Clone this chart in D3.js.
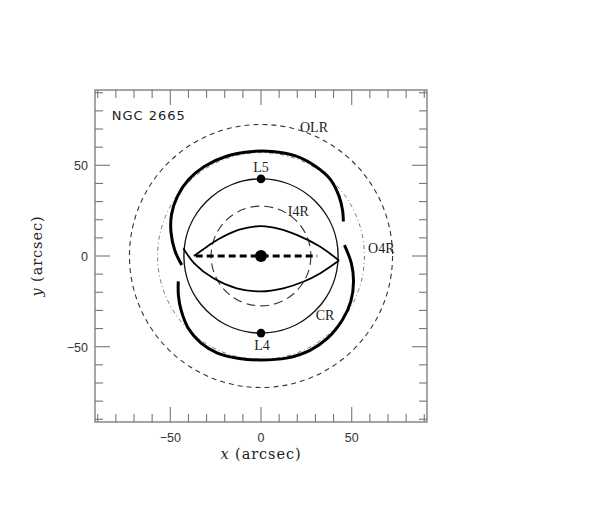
<!DOCTYPE html>
<html lang="en">
<head>
  <meta charset="UTF-8">
  <title>NGC 2665 resonances</title>
  <script src="https://d3js.org/d3.v7.min.js"></script>
  <style>
    body { margin: 0; background: #fff; }
    svg { display: block; }
    .tick-label { font-family: "Liberation Sans", Arial, sans-serif; font-size: 12.5px; fill: #333; }
    .axis-title { font-family: "DejaVu Serif", serif; font-size: 14.5px; letter-spacing: 0.9px; fill: #222; }
    .ann { font-family: "Liberation Serif", serif; font-size: 14px; fill: #222; }
    .name { font-family: "DejaVu Sans", sans-serif; font-size: 13px; letter-spacing: 1px; fill: #222; }
  </style>
</head>
<body>
  <svg width="598" height="506"></svg>
  <script>
    // resonance circles (arcsec)
    const circleNames = ['OLR', 'O4R', 'CR', 'I4R'];
    const circleRadii = [72.5, 57, 42.5, 27.5];

    // thick banana orbits around L5 (top) and L4 (bottom)
    const orbitTop = [[-43.7,-5],[-47.5,3],[-49.6,13],[-49.3,23],[-46,33],[-40,42],[-31,49.5],[-19,55],
      [-6,57.5],[6,57.6],[19,55.2],[30,49.5],[38,42.5],[43,33],[45,25],[45.4,19]];
    const orbitBottom = [[-45.6,-14],[-45.5,-22],[-44,-30],[-40,-40],[-33,-48],[-24,-53.5],[-12,-56.5],
      [0,-57.3],[14,-56.3],[27,-52],[37,-45],[45,-35],[49.5,-25],[51,-14],[49.8,-4],[46,6]];

    // lens shaped x1 orbit
    const lensUpper = [[-37,0],[-30,5],[-23,9.5],[-12,14.5],[0,16.5],[10,15],[20,11.5],[32,5.5],[43,-2.5]];
    const lensLower = [[-42.8,4.2],[-36.8,-4],[-26.2,-12.3],[-13.4,-17.8],[0,-19.5],[12.3,-17.8],
      [23.3,-14.2],[32.5,-9.6],[43,-2.5]];

    // bar
    const barEnds = [-36, 31];

    // points: centre, L5, L4
    const pointNames = ['centre', 'L5', 'L4'];
    const pointXY = [[0,0],[0,42.5],[0,-42.5]];

    // annotations
    const labelText = ['NGC 2665', 'OLR', 'L5', 'I4R', 'O4R', 'CR', 'L4'];
    const labelXY = [[-82.3,75],[21.5,68.5],[0,46.5],[14.8,21.8],[59,1.5],[30.2,-35.5],[0.5,-51.8]];

    const xTicksMajor = [-50, 0, 50];
    const tickMinor = d3.range(-90, 91, 10);

    const box = { left: 95, top: 90, size: 332 };
    const svg = d3.select('svg');

    const x = d3.scaleLinear().domain([-91.5, 91.5]).range([box.left, box.left + box.size]);
    const y = d3.scaleLinear().domain([-91.5, 91.5]).range([box.top + box.size, box.top]);

    const line = d3.line().x(d => x(d[0])).y(d => y(d[1])).curve(d3.curveCatmullRom);

    // circles
    const circleStyle = {
      OLR: { w: 1.1, dash: '5,4', c: '#333' },
      O4R: { w: 0.9, dash: '4,3,1,3', c: '#666' },
      CR:  { w: 1.4, dash: null, c: '#111' },
      I4R: { w: 1.1, dash: '9,5', c: '#333' }
    };
    circleNames.forEach((n, i) => {
      const s = circleStyle[n];
      svg.append('circle')
        .attr('cx', x(0)).attr('cy', y(0))
        .attr('r', x(circleRadii[i]) - x(0))
        .attr('fill', 'none')
        .attr('stroke', s.c)
        .attr('stroke-width', s.w)
        .attr('stroke-dasharray', s.dash);
    });

    // orbits
    [orbitTop, orbitBottom].forEach(o => {
      svg.append('path').datum(o).attr('d', line)
        .attr('fill', 'none').attr('stroke', '#000').attr('stroke-width', 3);
    });
    [lensUpper, lensLower].forEach(o => {
      svg.append('path').datum(o).attr('d', line)
        .attr('fill', 'none').attr('stroke', '#000').attr('stroke-width', 1.8);
    });

    // bar
    svg.append('line')
      .attr('x1', x(barEnds[0])).attr('x2', x(barEnds[1]))
      .attr('y1', y(0)).attr('y2', y(0))
      .attr('stroke', '#000').attr('stroke-width', 3.2)
      .attr('stroke-dasharray', '7,4');

    // points
    pointXY.forEach((p, i) => {
      svg.append('circle')
        .attr('cx', x(p[0])).attr('cy', y(p[1]))
        .attr('r', pointNames[i] === 'centre' ? 6 : 4.3)
        .attr('fill', '#000');
    });

    // labels
    labelText.forEach((t, i) => {
      const isName = i === 0;
      const centred = t === 'L5' || t === 'L4';
      svg.append('text')
        .attr('class', isName ? 'name' : 'ann')
        .attr('x', x(labelXY[i][0]))
        .attr('y', y(labelXY[i][1]))
        .attr('text-anchor', centred ? 'middle' : 'start')
        .text(t);
    });

    // frame with inward ticks on all sides
    const frame = svg.append('g').attr('stroke', '#777').attr('fill', 'none');
    frame.append('rect')
      .attr('x', box.left).attr('y', box.top)
      .attr('width', box.size).attr('height', box.size)
      .attr('stroke-width', 1.3);

    tickMinor.forEach(v => {
      const len = xTicksMajor.includes(v) ? 15 : 8;
      // bottom / top
      frame.append('line').attr('x1', x(v)).attr('x2', x(v))
        .attr('y1', box.top + box.size).attr('y2', box.top + box.size - len).attr('stroke-width', 1.1);
      frame.append('line').attr('x1', x(v)).attr('x2', x(v))
        .attr('y1', box.top).attr('y2', box.top + len).attr('stroke-width', 1.1);
      // left / right
      frame.append('line').attr('y1', y(v)).attr('y2', y(v))
        .attr('x1', box.left).attr('x2', box.left + len).attr('stroke-width', 1.1);
      frame.append('line').attr('y1', y(v)).attr('y2', y(v))
        .attr('x1', box.left + box.size).attr('x2', box.left + box.size - len).attr('stroke-width', 1.1);
    });

    const fmt = d => d < 0 ? '\u2212' + Math.abs(d) : String(d);
    xTicksMajor.forEach(v => {
      svg.append('text').attr('class', 'tick-label')
        .attr('x', x(v)).attr('y', box.top + box.size + 20)
        .attr('text-anchor', 'middle').text(fmt(v));
      svg.append('text').attr('class', 'tick-label')
        .attr('x', box.left - 7).attr('y', y(v) + 5)
        .attr('text-anchor', 'end').text(fmt(v));
    });

    // axis titles
    const xt = svg.append('text').attr('class', 'axis-title')
      .attr('x', x(0)).attr('y', box.top + box.size + 37)
      .attr('text-anchor', 'middle');
    xt.append('tspan').attr('font-style', 'italic').text('x');
    xt.append('tspan').text(' (arcsec)');

    const yt = svg.append('text').attr('class', 'axis-title')
      .attr('transform', `translate(42,${y(0)}) rotate(-90)`)
      .attr('text-anchor', 'middle');
    yt.append('tspan').attr('font-style', 'italic').text('y');
    yt.append('tspan').text(' (arcsec)');
  </script>
</body>
</html>
